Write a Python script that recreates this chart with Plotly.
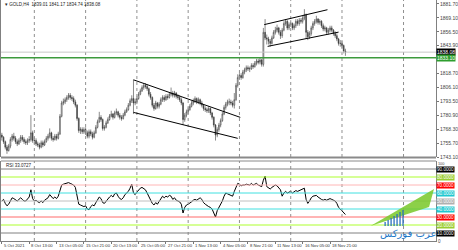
import plotly.graph_objects as go
from plotly.subplots import make_subplots

header_text = "GOLD,H4  1839.01 1841.17 1834.74 1838.08"
rsi_label = "RSI 33.0727"

opens = [1763,1761,1757,1752,1749,1753,1759,1762,1760,1757,1755,1758,1761,1759,1757,1756,1758,1759,1765,1758,
         1758,1755,1754,1752,1756,1754,1757,1760,1762,1765,1760,1759,1762,1760,1764,1780,1792,1793,1795,1797,
         1799,1797,1796,1793,1790,1778,1767,1768,1766,1768,1765,1762,1766,1764,1761,1765,1770,1775,1779,1777,
         1769,1770,1774,1777,1780,1782,1779,1783,1784,1781,1779,1778,1781,1784,1786,1790,1794,1796,1792,1793,
         1796,1800,1803,1806,1808,1807,1805,1800,1797,1790,1787,1792,1789,1791,1795,1797,1795,1798,1797,1800,
         1801,1799,1801,1798,1797,1795,1792,1777,1781,1784,1786,1789,1792,1794,1796,1793,1795,1792,1790,1787,
         1786,1785,1787,1783,1779,1772,1763,1768,1772,1776,1782,1788,1791,1793,1793,1792,1790,1795,1808,1815,
         1817,1815,1820,1822,1824,1823,1823,1826,1825,1828,1830,1829,1831,1827,1856,1851,1850,1848,1846,1851,
         1856,1858,1860,1856,1853,1858,1864,1866,1860,1863,1864,1860,1862,1866,1864,1867,1866,1869,1872,1856,
         1852,1855,1860,1864,1866,1868,1865,1866,1862,1859,1860,1856,1858,1860,1858,1855,1853,1850,1846,1846,
         1844,1839.01]
highs = [1765,1762,1758,1754,1755,1761,1764,1765,1762,1759,1760,1763,1763,1761,1759,1760,1762,1781,1767,1761,
         1760,1757,1756,1758,1758,1759,1762,1764,1769,1766,1762,1764,1764,1766,1782,1794,1796,1797,1799,1801,
         1801,1799,1798,1795,1791,1779,1770,1770,1770,1770,1767,1768,1768,1766,1767,1772,1777,1784,1781,1778,
         1772,1776,1779,1782,1785,1783,1785,1787,1785,1783,1781,1783,1786,1788,1792,1796,1799,1813,1796,1798,
         1802,1805,1808,1810,1810,1809,1806,1802,1798,1792,1794,1793,1793,1797,1799,1799,1800,1800,1802,1806,
         1803,1803,1802,1800,1799,1797,1793,1783,1786,1788,1791,1794,1796,1798,1797,1797,1796,1794,1791,1789,
         1788,1789,1788,1784,1780,1773,1770,1774,1778,1784,1790,1793,1795,1796,1795,1794,1801,1810,1818,1819,
         1819,1822,1824,1826,1826,1825,1828,1828,1830,1832,1832,1833,1832,1860,1868,1854,1852,1850,1853,1858,
         1861,1863,1861,1858,1860,1866,1868,1867,1865,1867,1865,1864,1868,1868,1869,1869,1871,1877,1873,1858,
         1857,1862,1866,1868,1871,1869,1868,1867,1864,1862,1861,1860,1862,1862,1859,1857,1855,1851,1849,1848,
         1845,1841.17]
lows = [1758,1755,1750,1746,1748,1751,1757,1758,1755,1753,1754,1756,1757,1755,1754,1754,1756,1757,1756,1755,
        1753,1752,1750,1751,1752,1753,1756,1758,1760,1758,1757,1758,1758,1759,1763,1779,1790,1791,1793,1795,
        1795,1794,1791,1788,1776,1765,1764,1764,1764,1763,1760,1760,1762,1759,1760,1764,1769,1774,1775,1767,
        1767,1769,1773,1776,1779,1777,1778,1781,1779,1777,1776,1777,1780,1783,1785,1789,1792,1782,1790,1791,
        1795,1799,1802,1804,1805,1803,1798,1795,1788,1785,1786,1787,1787,1790,1793,1793,1794,1795,1796,1798,
        1797,1797,1796,1795,1793,1790,1772,1775,1779,1782,1785,1788,1790,1792,1791,1791,1790,1788,1785,1784,
        1783,1783,1781,1777,1770,1758,1761,1766,1770,1775,1781,1786,1789,1790,1790,1788,1787,1794,1806,1813,
        1813,1814,1818,1820,1821,1820,1822,1823,1824,1826,1827,1827,1825,1825,1849,1845,1845,1843,1845,1850,
        1854,1856,1854,1850,1851,1857,1862,1858,1858,1861,1858,1858,1860,1862,1862,1864,1864,1867,1850,1849,
        1850,1853,1858,1862,1864,1863,1863,1860,1857,1857,1854,1854,1856,1856,1853,1851,1848,1844,1843,1842,
        1837,1834.74]
closes = [1761,1757,1752,1749,1753,1759,1762,1760,1757,1755,1758,1761,1759,1757,1756,1758,1759,1765,1758,1758,
          1755,1754,1752,1756,1754,1757,1760,1762,1765,1760,1759,1762,1760,1764,1780,1792,1793,1795,1797,1799,
          1797,1796,1793,1790,1778,1767,1768,1766,1768,1765,1762,1766,1764,1761,1765,1770,1775,1779,1777,1769,
          1770,1774,1777,1780,1782,1779,1783,1784,1781,1779,1778,1781,1784,1786,1790,1794,1796,1792,1793,1796,
          1800,1803,1806,1808,1807,1805,1800,1797,1790,1787,1792,1789,1791,1795,1797,1795,1798,1797,1800,1801,
          1799,1801,1798,1797,1795,1792,1777,1781,1784,1786,1789,1792,1794,1796,1793,1795,1792,1790,1787,1786,
          1785,1787,1783,1779,1772,1763,1768,1772,1776,1782,1788,1791,1793,1793,1792,1790,1795,1808,1815,1817,
          1815,1820,1822,1824,1823,1823,1826,1825,1828,1830,1829,1831,1827,1856,1851,1850,1848,1846,1851,1856,
          1858,1860,1856,1853,1858,1864,1866,1860,1863,1864,1860,1862,1866,1864,1867,1866,1869,1872,1856,1852,
          1855,1860,1864,1866,1868,1865,1866,1862,1859,1860,1856,1858,1860,1858,1855,1853,1850,1846,1846,1844,
          1839,1838.08]
rsi = [50,52,47,44,46,51,54,53,51,50,52,54,52,50,50,52,55,64,53,50,
       51,49,48,50,48,51,53,54,58,55,53,55,53,56,64,70,71,72,72,73,
       72,71,70,67,57,46,45,44,43,44,40,39,43,45,44,48,51,55,53,48,
       47,50,53,55,57,55,59,60,56,53,52,54,58,60,62,66,71,60,58,61,
       64,66,67,66,64,60,55,50,47,45,48,46,49,53,56,54,56,55,57,56,
       52,54,51,50,49,46,35,42,45,46,47,49,51,52,51,53,54,52,48,46,
       44,43,42,40,35,30,38,42,45,50,56,60,59,58,57,56,62,68,72,71,
       69,70,70,71,70,70,72,70,71,72,70,69,68,76,81,68,66,65,67,69,
       70,69,67,64,56,60,62,60,61,62,60,61,63,62,63,64,65,66,52,47,
       50,54,56,57,57,55,53,52,51,52,51,52,53,52,51,50,47,42,40,38,
       36,33.07]

x_label_idx = [0, 16, 32, 48, 64, 80, 96, 112, 128, 144, 160, 176, 192]
x_labels = ["5 Oct 2021", "8 Oct 13:00", "13 Oct 05:00", "15 Oct 21:00", "20 Oct 13:00",
            "25 Oct 05:00", "27 Oct 21:00", "1 Nov 13:00", "4 Nov 05:00", "8 Nov 21:00",
            "11 Nov 13:00", "16 Nov 05:00", "18 Nov 21:00"]
grid_idx = [19, 49, 79, 109, 139, 169, 199, 235]
price_ticks = [1881.70, 1869.10, 1856.50, 1843.90, 1818.70, 1806.10, 1793.50, 1780.90, 1768.30, 1755.70, 1743.10]
last_price = 1838.08
green_level = 1833.10
rsi_levels = [90, 80, 70, 60, 50, 40, 30, 20, 10]
rsi_line_colors = ["#808080", "#ADFF2F", "#FFB6B6", "#40E0E0", "#C0C0C0", "#40E0E0", "#FF6A6A", "#ADFF2F", "#808080"]
rsi_box_colors = ["#000000", "#9ACD32", "#FF0000", "#20C8D0", "#B0B0B0", "#20C8D0", "#FF0000", "#9ACD32", "#000000"]
desc_channel = [[77, 1813.0, 139.5, 1779.0], [77, 1783.5, 138.0, 1760.0]]
asc_channel = [[153.5, 1863.0, 190.5, 1876.5], [155.5, 1843.3, 197.0, 1856.2]]

W, H = 458, 250
MR, MB = 20, 9
PH = H - MB
PW = W - MR


def py(px):
    return 1 - px / PH


def pxx(px):
    return px / PW


N = len(closes)
idx = list(range(N))

fig = make_subplots(rows=2, cols=1, shared_xaxes=True, vertical_spacing=0)
fig.add_trace(go.Candlestick(x=idx, open=opens, high=highs, low=lows, close=closes,
                             increasing=dict(line=dict(color="#3a3a3a", width=0.6), fillcolor="#ffffff"),
                             decreasing=dict(line=dict(color="#3a3a3a", width=0.6), fillcolor="#3a3a3a"),
                             whiskerwidth=0, showlegend=False, hoverinfo="skip"), row=1, col=1)
fig.add_trace(go.Scatter(x=idx, y=rsi, mode="lines", line=dict(color="#000000", width=1),
                         showlegend=False, hoverinfo="skip"), row=2, col=1)

xr = [-0.5, 254]
fig.update_layout(
    width=W, height=H, margin=dict(l=0, r=MR, t=0, b=MB),
    paper_bgcolor="white", plot_bgcolor="white",
    font=dict(family="Liberation Sans, Arial, sans-serif", size=5, color="#333333"),
    xaxis=dict(range=xr, showgrid=False, showticklabels=False, rangeslider=dict(visible=False),
               zeroline=False, showline=False, domain=[0, 1]),
    xaxis2=dict(range=xr, showgrid=False, showticklabels=False, zeroline=False,
                tickvals=x_label_idx, ticks="outside", ticklen=2, tickcolor="#777777",
                showline=True, linecolor="#808080", linewidth=1, domain=[0, 1]),
    yaxis=dict(domain=[py(157), 1], range=[1743.1, 1885.3], side="right", showgrid=False,
               tickvals=price_ticks, ticktext=[f"{v:.2f}" for v in price_ticks],
               ticks="outside", ticklen=2, tickcolor="#777777", showline=True, linecolor="#808080",
               mirror=True, zeroline=False, tickfont=dict(size=5, color="#444444")),
    yaxis2=dict(domain=[0, py(161)], range=[0, 100], side="right", showgrid=False,
                showticklabels=False, showline=True, linecolor="#808080", mirror=True, zeroline=False),
)

shapes = []
for g in grid_idx:
    for yr in ("y domain", "y2 domain"):
        xref = "x" if yr == "y domain" else "x2"
        shapes.append(dict(type="line", xref=xref, yref=yr, x0=g, x1=g, y0=0, y1=1,
                           line=dict(color="#909090", width=1, dash="dot")))
for lvl, col in zip(rsi_levels, rsi_line_colors):
    shapes.append(dict(type="line", xref="x2 domain", yref="y2", x0=0, x1=1, y0=lvl, y1=lvl,
                       line=dict(color=col, width=1)))
shapes.append(dict(type="line", xref="x domain", yref="y", x0=0, x1=1, y0=last_price, y1=last_price,
                   line=dict(color="#C8C8C8", width=1)))
shapes.append(dict(type="line", xref="x domain", yref="y", x0=0, x1=1, y0=green_level, y1=green_level,
                   line=dict(color="#3C9A3C", width=1.5)))
for a, b, c, d in desc_channel + asc_channel:
    shapes.append(dict(type="line", xref="x", yref="y", x0=a, y0=b, x1=c, y1=d,
                       line=dict(color="#000000", width=1)))
# panel separators
shapes.append(dict(type="rect", xref="paper", yref="paper", x0=0, x1=1, y0=py(158.5), y1=py(156.5),
                   fillcolor="#8a8a8a", line=dict(width=0)))
shapes.append(dict(type="line", xref="paper", yref="paper", x0=0, x1=1, y0=py(161), y1=py(161),
                   line=dict(color="#8a8a8a", width=1)))
# watermark logo
shapes.append(dict(type="path", xref="paper", yref="paper",
                   path=f"M {pxx(372)},{py(226)} L {pxx(436)},{py(189)} L {pxx(431)},{py(207)} Z",
                   fillcolor="rgba(120,200,40,0.85)", line=dict(width=0)))
for i, hgt in enumerate([4, 6, 8, 10, 12, 14, 16]):
    xb = 386 + i * 3
    shapes.append(dict(type="rect", xref="paper", yref="paper", x0=pxx(xb), x1=pxx(xb + 1.6),
                       y0=py(226), y1=py(226 - hgt), fillcolor="rgba(40,110,190,0.8)", line=dict(width=0)))
fig.update_layout(shapes=shapes)

ann = []
ann.append(dict(text="▾ " + header_text, xref="paper", yref="paper", x=pxx(2), y=py(4),
                xanchor="left", yanchor="middle", showarrow=False, font=dict(size=4.5, color="#222222")))
ann.append(dict(text=rsi_label, xref="paper", yref="paper", x=pxx(3), y=py(165.5),
                xanchor="left", yanchor="middle", showarrow=False, font=dict(size=4.5, color="#222222")))
for i, t in zip(x_label_idx, x_labels):
    ann.append(dict(text=t, xref="x2", yref="paper", x=i, y=py(245.5), xanchor="left", yanchor="middle",
                    showarrow=False, font=dict(size=4.2, color="#333333")))
ann.append(dict(text=f"{last_price:.2f}", xref="paper", yref="y", x=1, y=last_price, xanchor="left",
                yanchor="middle", showarrow=False, bgcolor="#000000", font=dict(size=5, color="#ffffff"),
                borderpad=0))
ann.append(dict(text=f"{green_level:.2f}", xref="paper", yref="y", x=1, y=green_level, xanchor="left",
                yanchor="middle", showarrow=False, bgcolor="#2E9E2E", font=dict(size=5, color="#ffffff"),
                borderpad=0))
for lvl, col in zip(rsi_levels, rsi_box_colors):
    ann.append(dict(text=f"{lvl:.4f}", xref="paper", yref="y2", x=1, y=lvl, xanchor="left",
                    yanchor="middle", showarrow=False, bgcolor=col, font=dict(size=4.6, color="#ffffff"),
                    borderpad=0))
ann.append(dict(text="100", xref="paper", yref="y2", x=1, y=100, xanchor="left", yanchor="top",
                yshift=1, showarrow=False, font=dict(size=3.8, color="#444444")))
ann.append(dict(text="0", xref="paper", yref="y2", x=1, y=0, xanchor="left", yanchor="middle",
                showarrow=False, font=dict(size=4.5, color="#444444")))
ann.append(dict(text="عرب فوركس", xref="paper", yref="paper", x=pxx(410), y=py(233),
                xanchor="center", yanchor="middle", showarrow=False,
                font=dict(family="DejaVu Sans", size=10, color="#1E78C8")))
fig.update_layout(annotations=ann)

fig.write_html("out.html")
